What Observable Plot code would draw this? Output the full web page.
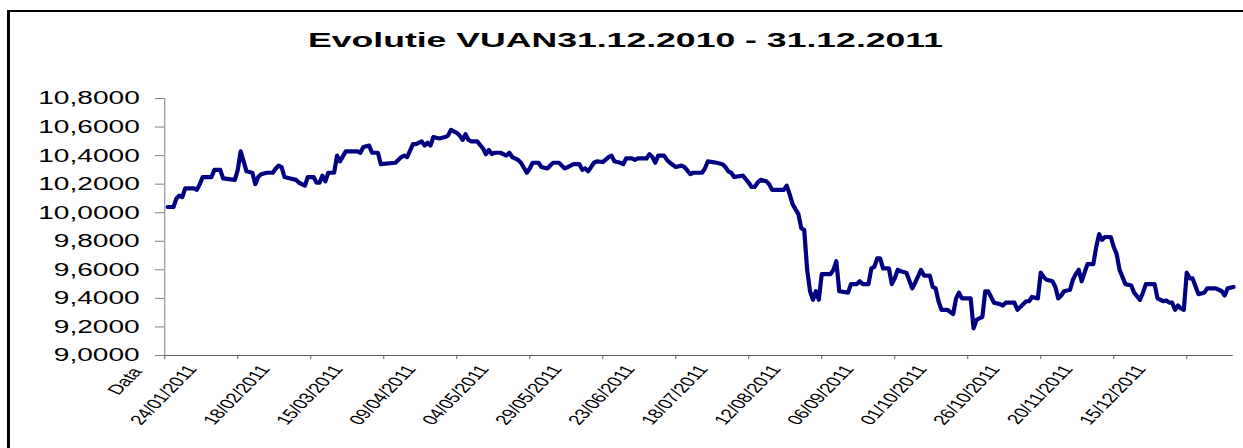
<!DOCTYPE html>
<html>
<head>
<meta charset="utf-8">
<script src="https://cdn.jsdelivr.net/npm/d3@7"></script>
<script src="https://cdn.jsdelivr.net/npm/@observablehq/plot@0.6"></script>
<style>
html, body { margin: 0; padding: 0; background: #fff; overflow: hidden; }
#wrap { position: relative; width: 1243px; height: 448px; overflow: hidden; }
#title { position: relative; height: 60px; width: 1243px; }
#title span { position: absolute; left: 308px; top: 29px; font: bold 21px "Liberation Sans", Arial, sans-serif; line-height: 21px; white-space: nowrap; transform-origin: 0 0; color: #000; }
#frame { position: absolute; left: 7px; top: 10px; width: 1300px; height: 500px; border-left: 3px solid #000; border-top: 2px solid #000; box-sizing: border-box; pointer-events: none; }
</style>
</head>
<body>
<div id="wrap">
  <div id="title"><span id="titleText">Evolutie VUAN31.12.2010 - 31.12.2011</span></div>
  <div id="chart"></div>
  <div id="frame"></div>
</div>
<script>
// ---- data ----
const tickLabels = ["Data","24/01/2011","18/02/2011","15/03/2011","09/04/2011","04/05/2011","29/05/2011","23/06/2011","18/07/2011","12/08/2011","06/09/2011","01/10/2011","26/10/2011","20/11/2011","15/12/2011"];
const yTicks = [9.0, 9.2, 9.4, 9.6, 9.8, 10.0, 10.2, 10.4, 10.6, 10.8];

const dates = [
"2010-12-31","2011-01-02","2011-01-03","2011-01-04","2011-01-05","2011-01-06","2011-01-09","2011-01-10","2011-01-11","2011-01-12",
"2011-01-15","2011-01-16","2011-01-18","2011-01-19","2011-01-23","2011-01-24","2011-01-25","2011-01-26","2011-01-27","2011-01-29",
"2011-01-30","2011-01-31","2011-02-01","2011-02-03","2011-02-05","2011-02-06","2011-02-07","2011-02-08","2011-02-09","2011-02-11",
"2011-02-13","2011-02-14","2011-02-16","2011-02-17","2011-02-19","2011-02-20","2011-02-21","2011-02-22","2011-02-23","2011-02-24",
"2011-02-26","2011-02-27","2011-02-28","2011-03-02","2011-03-06","2011-03-07","2011-03-08","2011-03-10","2011-03-11","2011-03-13",
"2011-03-14","2011-03-19","2011-03-21","2011-03-22","2011-03-23","2011-03-25","2011-03-26","2011-03-28","2011-03-29","2011-03-30",
"2011-03-31","2011-04-01","2011-04-03","2011-04-05","2011-04-06","2011-04-07","2011-04-09","2011-04-10","2011-04-11","2011-04-12",
"2011-04-13","2011-04-14","2011-04-16","2011-04-18","2011-04-19","2011-04-20","2011-04-21","2011-04-22","2011-04-24","2011-04-26",
"2011-04-27","2011-04-28","2011-04-30","2011-05-01","2011-05-03","2011-05-04","2011-05-05","2011-05-07","2011-05-08","2011-05-10",
"2011-05-12","2011-05-14","2011-05-16","2011-05-17","2011-05-19","2011-05-21","2011-05-22","2011-05-23","2011-05-24","2011-05-26",
"2011-05-27","2011-05-29","2011-05-31","2011-06-01","2011-06-02","2011-06-04","2011-06-05","2011-06-06","2011-06-08","2011-06-09",
"2011-06-10","2011-06-13","2011-06-14","2011-06-15","2011-06-16","2011-06-17","2011-06-19","2011-06-20","2011-06-21","2011-06-23",
"2011-06-25","2011-06-26","2011-06-28","2011-06-29","2011-07-02","2011-07-03","2011-07-04","2011-07-07","2011-07-09","2011-07-10",
"2011-07-11","2011-07-12","2011-07-13","2011-07-16","2011-07-18","2011-07-19","2011-07-20","2011-07-21","2011-07-22","2011-07-24",
"2011-07-25","2011-07-26","2011-07-30","2011-07-31","2011-08-01","2011-08-02","2011-08-04","2011-08-05","2011-08-06","2011-08-07",
"2011-08-08","2011-08-09","2011-08-10","2011-08-11","2011-08-12","2011-08-15","2011-08-16","2011-08-17","2011-08-18","2011-08-21",
"2011-08-22","2011-08-24","2011-08-25","2011-08-26","2011-08-28","2011-08-29","2011-08-30","2011-08-31","2011-09-01","2011-09-02",
"2011-09-04","2011-09-05","2011-09-06","2011-09-07","2011-09-08","2011-09-10","2011-09-12","2011-09-13","2011-09-15","2011-09-16",
"2011-09-18","2011-09-19","2011-09-20","2011-09-21","2011-09-22","2011-09-24","2011-09-26","2011-09-27","2011-09-28","2011-09-29",
"2011-10-02","2011-10-03","2011-10-04","2011-10-06","2011-10-07","2011-10-08","2011-10-10","2011-10-12","2011-10-13","2011-10-14",
"2011-10-17","2011-10-18","2011-10-19","2011-10-21","2011-10-22","2011-10-23","2011-10-25","2011-10-26","2011-10-27","2011-10-28",
"2011-10-30","2011-10-31","2011-11-01","2011-11-02","2011-11-03","2011-11-05","2011-11-06","2011-11-07","2011-11-08","2011-11-09",
"2011-11-10","2011-11-11","2011-11-13","2011-11-14","2011-11-15","2011-11-16","2011-11-17","2011-11-19","2011-11-20","2011-11-21",
"2011-11-22","2011-11-24","2011-11-26","2011-11-27","2011-11-29","2011-11-30","2011-12-01","2011-12-04","2011-12-05","2011-12-07",
"2011-12-08","2011-12-09","2011-12-10","2011-12-11","2011-12-12","2011-12-13","2011-12-14","2011-12-15","2011-12-16","2011-12-17",
"2011-12-19","2011-12-21","2011-12-22","2011-12-25","2011-12-27","2011-12-28","2011-12-29","2011-12-31"
];

const values = [
10.04,10.04,10.10,10.12,10.11,10.17,10.17,10.16,10.20,10.25,
10.25,10.30,10.30,10.24,10.23,10.30,10.43,10.36,10.29,10.28,
10.20,10.25,10.27,10.28,10.28,10.31,10.33,10.32,10.25,10.24,
10.23,10.21,10.19,10.25,10.25,10.21,10.21,10.26,10.22,10.28,
10.28,10.40,10.36,10.43,10.43,10.42,10.46,10.47,10.42,10.42,
10.34,10.35,10.39,10.40,10.39,10.48,10.48,10.50,10.47,10.49,
10.47,10.53,10.52,10.53,10.54,10.58,10.56,10.54,10.51,10.55,
10.51,10.50,10.50,10.45,10.41,10.44,10.41,10.42,10.42,10.40,
10.42,10.39,10.37,10.35,10.28,10.31,10.35,10.35,10.32,10.31,
10.35,10.35,10.31,10.32,10.34,10.34,10.30,10.31,10.29,10.35,
10.36,10.355,10.39,10.40,10.36,10.35,10.34,10.38,10.38,10.37,
10.38,10.38,10.41,10.39,10.35,10.40,10.40,10.37,10.35,10.32,
10.33,10.32,10.27,10.28,10.28,10.31,10.36,10.35,10.34,10.32,
10.29,10.28,10.25,10.26,10.21,10.18,10.18,10.21,10.23,10.22,
10.20,10.16,10.16,10.19,10.13,10.06,9.99,9.89,9.88,9.60,
9.45,9.39,9.45,9.39,9.57,9.57,9.60,9.66,9.45,9.44,
9.50,9.50,9.52,9.50,9.50,9.61,9.62,9.68,9.68,9.61,
9.61,9.50,9.54,9.60,9.59,9.58,9.47,9.51,9.60,9.56,
9.56,9.48,9.47,9.38,9.32,9.32,9.29,9.40,9.44,9.40,
9.40,9.19,9.25,9.27,9.45,9.45,9.37,9.36,9.35,9.37,
9.37,9.32,9.34,9.38,9.38,9.41,9.40,9.58,9.55,9.53,
9.52,9.48,9.40,9.42,9.45,9.46,9.53,9.57,9.60,9.52,
9.58,9.64,9.64,9.76,9.85,9.81,9.83,9.83,9.76,9.71,
9.60,9.50,9.49,9.44,9.39,9.44,9.50,9.50,9.40,9.38,
9.385,9.37,9.37,9.32,9.35,9.33,9.32,9.58,9.54,9.54,
9.43,9.44,9.47,9.47,9.45,9.42,9.47,9.48
];

// ---- chart ----
const S = 1243 / 818;          // horizontal stretch of the original picture
const W0 = 818, H = 388;
const parseISO = d3.utcParse("%Y-%m-%d");
const parseDMY = d3.utcParse("%d/%m/%Y");
const data = dates.map((d, i) => ({date: parseISO(d), value: values[i]}));
const firstDate = data[0].date;
const headerDate = d3.utcDay.offset(firstDate, -1);   // position of the "Data" header category
const lastDate = data[data.length - 1].date;
const labelRows = tickLabels.map((l, i) => ({date: i === 0 ? headerDate : parseDMY(l), label: l}));
const tickDates = labelRows.map(d => d.date);
const fmt = d3.formatLocale({decimal: ",", thousands: ".", grouping: [3], currency: ["", ""]}).format(".4f");
const rot = -Math.atan(S) * 180 / Math.PI;   // appears as 45° once stretched

const plot = Plot.plot({
  width: W0,
  height: H,
  marginLeft: 164 / S,
  marginRight: (1243 - 1232.7) / S,
  marginTop: 38,
  marginBottom: 93,
  style: {fontFamily: '"Liberation Sans", Arial, sans-serif', background: "transparent", overflow: "visible"},
  x: {type: "utc", domain: [headerDate, lastDate]},
  y: {domain: [9, 10.8]},
  marks: [
    Plot.axisY(yTicks, {tickSize: 9 / S, tickPadding: 16 / S, tickFormat: fmt, fontSize: 18.5, stroke: "#808080", fill: "#000", label: null}),
    Plot.axisX(tickDates, {tickSize: 4, tickFormat: () => "", stroke: "#606060", label: null}),
    Plot.ruleY([9], {stroke: "#606060"}),
    Plot.ruleX([headerDate], {stroke: "#808080"}),
    Plot.text(labelRows.slice(1), {x: "date", text: "label", frameAnchor: "bottom", textAnchor: "end", lineAnchor: "bottom", rotate: rot, fontSize: 13.8, dx: -40 / S, dy: 13.5, fill: "#000"}),
    Plot.text(labelRows.slice(0, 1), {x: "date", text: "label", frameAnchor: "bottom", textAnchor: "end", lineAnchor: "bottom", rotate: rot, fontSize: 13.8, dx: -22 / S, dy: 16, fill: "#000"}),
    Plot.lineY(data, {x: "date", y: "value", stroke: "#000080", strokeWidth: 4.2, strokeLinejoin: "round", strokeLinecap: "round"})
  ]
});

plot.setAttribute("width", 1243);
plot.setAttribute("height", H);
plot.setAttribute("preserveAspectRatio", "none");
plot.style.width = "1243px";
plot.style.height = H + "px";
plot.style.maxWidth = "none";
plot.querySelectorAll("path, line").forEach(e => e.setAttribute("vector-effect", "non-scaling-stroke"));
document.getElementById("chart").appendChild(plot);

// stretch the title the same way the original is stretched
const t = document.getElementById("titleText");
const w = t.getBoundingClientRect().width;
t.style.transform = `scaleX(${635 / w})`;
</script>
</body>
</html>
